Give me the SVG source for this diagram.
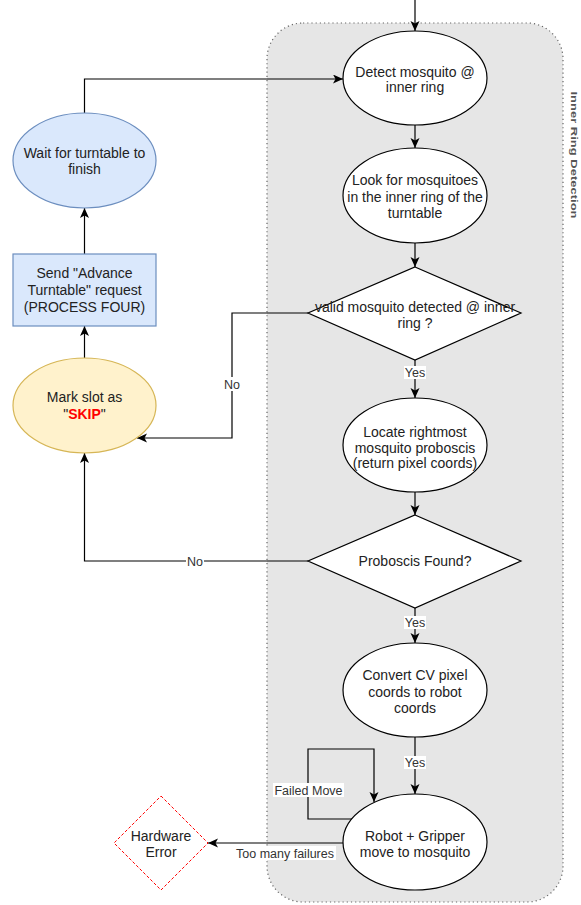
<svg xmlns="http://www.w3.org/2000/svg" width="581" height="905" viewBox="0 0 581 905">
  <defs>
    <marker id="arrow" markerUnits="userSpaceOnUse" markerWidth="11" markerHeight="10" refX="10" refY="4.5" orient="auto">
      <path d="M0,0 L10,4.5 L0,9 L2.5,4.5 Z" fill="#000"/>
    </marker>
    <style>
      text { font-family: "Liberation Sans", Arial, Helvetica, sans-serif; fill: #222; }
      .node { font-size: 14px; text-anchor: middle; }
      .lbl { font-size: 12.5px; text-anchor: middle; fill: #333; }
      .plain { fill: #fff; stroke: #000; stroke-width: 1.2; }
      .blue { fill: #dae8fc; stroke: #6c8ebf; stroke-width: 1.2; }
      .yellow { fill: #fff2cc; stroke: #d6b656; stroke-width: 1.2; }
      .edge { fill: none; stroke: #000; stroke-width: 1.2; marker-end: url(#arrow); }
      .bg { fill: #fff; }
    </style>
  </defs>

  <rect width="581" height="905" fill="#fff"/>

  <!-- Inner ring detection container -->
  <g id="inner-ring-container">
    <rect x="267" y="23" width="296" height="879" rx="36" ry="36" fill="#e6e6e6" stroke="#666" stroke-width="1.2" stroke-dasharray="1.2,3"/>
    <text transform="translate(570.5,155) rotate(90) scale(1,0.7)" text-anchor="middle" style="font-size:13px;font-weight:bold;fill:#555">Inner Ring Detection</text>
  </g>

  <!-- Connectors -->
  <g id="connectors">
    <path class="edge" d="M415,0 L415,31"/>
    <path class="edge" d="M84.5,113 L84.5,79 L343,79"/>
    <path class="edge" d="M415,125 L415,148"/>
    <path class="edge" d="M415,243 L415,267"/>
    <path class="edge" d="M415,360 L415,398"/>
    <path class="edge" d="M415,492 L415,515"/>
    <path class="edge" d="M415,608 L415,643"/>
    <path class="edge" d="M415,737 L415,794"/>
    <path class="edge" d="M308,313 L232,313 L232,438 L137,438"/>
    <path class="edge" d="M308,561 L84.5,561 L84.5,453"/>
    <path class="edge" d="M84.5,254 L84.5,208"/>
    <path class="edge" d="M84.5,358 L84.5,326"/>
    <path class="edge" d="M352,819 L308,819 L308,749 L374,749 L374,802"/>
    <path class="edge" d="M343,843 L208,843"/>

    <rect class="bg" x="404" y="366" width="22" height="13"/>
    <text class="lbl" x="415" y="376.5">Yes</text>
    <rect class="bg" x="404" y="616" width="22" height="13"/>
    <text class="lbl" x="415" y="626.5">Yes</text>
    <rect class="bg" x="404" y="756" width="22" height="13"/>
    <text class="lbl" x="415" y="766.5">Yes</text>
    <rect class="bg" x="223" y="377" width="18" height="14"/>
    <text class="lbl" x="232" y="388.5">No</text>
    <rect class="bg" x="186" y="554" width="18" height="14"/>
    <text class="lbl" x="195" y="565.5">No</text>
    <rect class="bg" x="273" y="783" width="71" height="14"/>
    <text class="lbl" x="308.5" y="794.5">Failed Move</text>
    <rect class="bg" x="234" y="846" width="102" height="14"/>
    <text class="lbl" x="285" y="857.5">Too many failures</text>
  </g>

  <!-- Centre column -->
  <g id="detect-mosquito">
    <ellipse class="plain" cx="415" cy="78" rx="72" ry="47"/>
    <text class="node" x="415" y="76.5">Detect mosquito @</text>
    <text class="node" x="415" y="92">inner ring</text>
  </g>

  <g id="look-for-mosquitoes">
    <ellipse class="plain" cx="415" cy="195.5" rx="72" ry="47.5"/>
    <text class="node" x="415" y="184.5">Look for mosquitoes</text>
    <text class="node" x="415" y="201.5">in the inner ring of the</text>
    <text class="node" x="415" y="217.5">turntable</text>
  </g>

  <g id="valid-mosquito-decision">
    <polygon class="plain" points="415,267 521,313 415,360 308,313"/>
    <text class="node" x="415" y="311.5">valid mosquito detected @ inner</text>
    <text class="node" x="415" y="328">ring ?</text>
  </g>

  <g id="locate-proboscis">
    <ellipse class="plain" cx="415" cy="445" rx="72" ry="47"/>
    <text class="node" x="415" y="436.5">Locate rightmost</text>
    <text class="node" x="415" y="452.5">mosquito proboscis</text>
    <text class="node" x="415" y="468">(return pixel coords)</text>
  </g>

  <g id="proboscis-found-decision">
    <polygon class="plain" points="415,515 521,561 415,608 308,561"/>
    <text class="node" x="415" y="566">Proboscis Found?</text>
  </g>

  <g id="convert-coords">
    <ellipse class="plain" cx="415" cy="690" rx="72" ry="47"/>
    <text class="node" x="415" y="679.5">Convert CV pixel</text>
    <text class="node" x="415" y="696.5">coords to robot</text>
    <text class="node" x="415" y="712.5">coords</text>
  </g>

  <g id="robot-gripper-move">
    <ellipse class="plain" cx="415" cy="842" rx="72" ry="48"/>
    <text class="node" x="415" y="840.5">Robot + Gripper</text>
    <text class="node" x="415" y="857">move to mosquito</text>
  </g>

  <g id="hardware-error">
    <polygon points="161,796 208,843 161,890 114,843" fill="#fff" stroke="#ff0000" stroke-width="1" stroke-dasharray="3,2"/>
    <text class="node" x="161" y="840.5">Hardware</text>
    <text class="node" x="161" y="857">Error</text>
  </g>

  <!-- Left column -->
  <g id="wait-for-turntable">
    <ellipse class="blue" cx="84.5" cy="160.5" rx="71.5" ry="47.5"/>
    <text class="node" x="84.5" y="157.5">Wait for turntable to</text>
    <text class="node" x="84.5" y="174">finish</text>
  </g>

  <g id="advance-turntable-request">
    <rect class="blue" x="13" y="254" width="143" height="72"/>
    <text class="node" x="84.5" y="277.5">Send "Advance</text>
    <text class="node" x="84.5" y="294.5">Turntable" request</text>
    <text class="node" x="84.5" y="311.5">(PROCESS FOUR)</text>
  </g>

  <g id="mark-slot-skip">
    <ellipse class="yellow" cx="84.5" cy="405.5" rx="71.5" ry="47.5"/>
    <text class="node" x="84.5" y="401.5">Mark slot as</text>
    <text class="node" x="84.5" y="418.5">"<tspan style="fill:#ff0000;font-weight:bold">SKIP</tspan>"</text>
  </g>
</svg>
